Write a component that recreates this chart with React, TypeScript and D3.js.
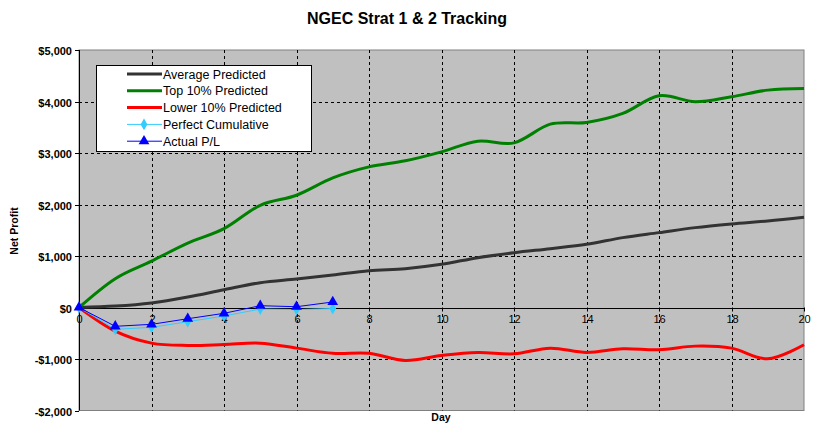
import React, { useEffect, useRef } from "react";
import * as d3 from "d3";

const days = d3.range(0, 21);
const averagePredicted = [0, 27, 88, 203, 346, 482, 553, 630, 715, 754, 838, 968, 1065, 1143, 1227, 1357, 1454, 1551, 1622, 1680, 1752];
const top10Predicted = [0, 560, 900, 1250, 1532, 1985, 2180, 2516, 2730, 2848, 3022, 3230, 3197, 3560, 3593, 3768, 4111, 3995, 4092, 4221, 4254];
const lower10Predicted = [0, -459, -692, -737, -718, -692, -789, -890, -890, -1029, -931, -873, -899, -789, -873, -802, -821, -750, -789, -996, -724];
const perfectDays = [0, 1, 2, 3, 4, 5, 6, 7];
const perfectCumulative = [0, -424, -385, -276, -165, -30, -40, -20];
const actualPL = [0, -365, -327, -218, -113, 35, 15, 107];

const yTicks = [5000, 4000, 3000, 2000, 1000, 0, -1000, -2000];
const xTicks = [0, 2, 4, 6, 8, 10, 12, 14, 16, 18, 20];
const legendLabels = ["Average Predicted", "Top 10% Predicted", "Lower 10% Predicted", "Perfect Cumulative", "Actual P/L"];

const W = 814, H = 425;
const L = 79, R = 804, T = 50, B = 410.5;
const FONT = "Arial, 'Liberation Sans', sans-serif";

function fmt(v: number) {
  const s = d3.format(",")(Math.abs(v));
  return (v < 0 ? "-$" : "$") + s;
}

export default function App() {
  const ref = useRef<SVGSVGElement>(null);
  useEffect(() => {
    const svg = d3.select(ref.current);
    svg.selectAll("*").remove();
    const x = d3.scaleLinear().domain([0, 20]).range([L, R]);
    const y = d3.scaleLinear().domain([-2000, 5000]).range([B, T]);

    svg.append("rect").attr("width", W).attr("height", H).attr("fill", "#fff");
    svg.append("rect").attr("x", L).attr("y", T).attr("width", R - L).attr("height", B - T)
      .attr("fill", "#C0C0C0").attr("stroke", "#808080").attr("stroke-width", 1);

    const g = svg.append("g");
    xTicks.filter(d => d > 0 && d < 20).forEach(d => {
      g.append("line").attr("x1", Math.round(x(d)) + 0.5).attr("x2", Math.round(x(d)) + 0.5)
        .attr("y1", T).attr("y2", B).attr("stroke", "#000").attr("stroke-width", 1).attr("stroke-dasharray", "3,3");
    });
    yTicks.filter(d => d !== 0 && d !== 5000 && d !== -2000).forEach(d => {
      g.append("line").attr("x1", L).attr("x2", R).attr("y1", Math.round(y(d)) + 0.5).attr("y2", Math.round(y(d)) + 0.5)
        .attr("stroke", "#000").attr("stroke-width", 1).attr("stroke-dasharray", "3,3");
    });

    svg.append("line").attr("x1", L + 0.5).attr("x2", L + 0.5).attr("y1", T).attr("y2", B).attr("stroke", "#000");
    svg.append("line").attr("x1", L).attr("x2", R).attr("y1", Math.round(y(0)) + 0.5).attr("y2", Math.round(y(0)) + 0.5).attr("stroke", "#000");
    yTicks.forEach(d => {
      const yy = Math.round(y(d)) + 0.5;
      svg.append("line").attr("x1", L - 4).attr("x2", L).attr("y1", yy).attr("y2", yy).attr("stroke", "#000");
      svg.append("text").attr("x", 72).attr("y", yy + 4).attr("text-anchor", "end")
        .attr("font-family", FONT).attr("font-size", 11).attr("font-weight", "bold").text(fmt(d));
    });
    xTicks.forEach(d => {
      const xx = Math.round(x(d)) + 0.5;
      svg.append("line").attr("x1", xx).attr("x2", xx).attr("y1", y(0)).attr("y2", y(0) + 4).attr("stroke", "#000");
      svg.append("text").attr("x", xx).attr("y", y(0) + 15).attr("text-anchor", "middle")
        .attr("font-family", FONT).attr("font-size", 11).text(String(d));
    });

    const smooth = d3.line<number>().x((_, i) => x(days[i])).y(v => y(v)).curve(d3.curveCardinal.tension(0));
    svg.append("path").attr("d", smooth(averagePredicted)).attr("fill", "none").attr("stroke", "#333333").attr("stroke-width", 3);
    svg.append("path").attr("d", smooth(top10Predicted)).attr("fill", "none").attr("stroke", "#008000").attr("stroke-width", 3);
    svg.append("path").attr("d", smooth(lower10Predicted)).attr("fill", "none").attr("stroke", "#FF0000").attr("stroke-width", 3);

    const lineS = d3.line<number>().x((_, i) => x(perfectDays[i])).y(v => y(v));
    svg.append("path").attr("d", lineS(perfectCumulative)).attr("fill", "none").attr("stroke", "#33CCFF").attr("stroke-width", 1);
    const diamond = d3.symbol().type(d3.symbolDiamond).size(40);
    perfectCumulative.forEach((v, i) => {
      svg.append("path").attr("d", diamond()).attr("transform", `translate(${x(perfectDays[i])},${y(v)})`).attr("fill", "#33CCFF");
    });
    svg.append("path").attr("d", lineS(actualPL)).attr("fill", "none").attr("stroke", "#0000FF").attr("stroke-width", 1);
    const tri = d3.symbol().type(d3.symbolTriangle).size(50);
    actualPL.forEach((v, i) => {
      svg.append("path").attr("d", tri()).attr("transform", `translate(${x(perfectDays[i])},${y(v)})`).attr("fill", "#0000FF");
    });

    const lg = svg.append("g");
    lg.append("rect").attr("x", 96.5).attr("y", 65.5).attr("width", 215).attr("height", 86).attr("fill", "#fff").attr("stroke", "#000");
    const colors = ["#333333", "#008000", "#FF0000", "#33CCFF", "#0000FF"];
    const widths = [3, 3, 3, 1, 1];
    legendLabels.forEach((lab, i) => {
      const yy = 74 + i * 16.8;
      lg.append("line").attr("x1", 127).attr("x2", 162).attr("y1", yy).attr("y2", yy).attr("stroke", colors[i]).attr("stroke-width", widths[i]);
      if (i === 3) lg.append("path").attr("d", diamond()).attr("transform", `translate(144,${yy})`).attr("fill", colors[i]);
      if (i === 4) lg.append("path").attr("d", tri()).attr("transform", `translate(144,${yy})`).attr("fill", colors[i]);
      lg.append("text").attr("x", 163).attr("y", yy + 4.5).attr("font-family", FONT).attr("font-size", 12.5).text(lab);
    });

    svg.append("text").attr("x", 407).attr("y", 24).attr("text-anchor", "middle").attr("font-family", FONT)
      .attr("font-size", 16).attr("font-weight", "bold").text("NGEC Strat 1 & 2 Tracking");
    svg.append("text").attr("transform", "translate(18,231) rotate(-90)").attr("text-anchor", "middle")
      .attr("font-family", FONT).attr("font-size", 10.5).attr("font-weight", "bold").text("Net Profit");
    svg.append("text").attr("x", 441).attr("y", 421).attr("text-anchor", "middle")
      .attr("font-family", FONT).attr("font-size", 10.5).attr("font-weight", "bold").text("Day");
  }, []);
  return (
    <svg ref={ref} width={W} height={H} style={{ position: "absolute", left: 0, top: 0, display: "block" }} />
  );
}
